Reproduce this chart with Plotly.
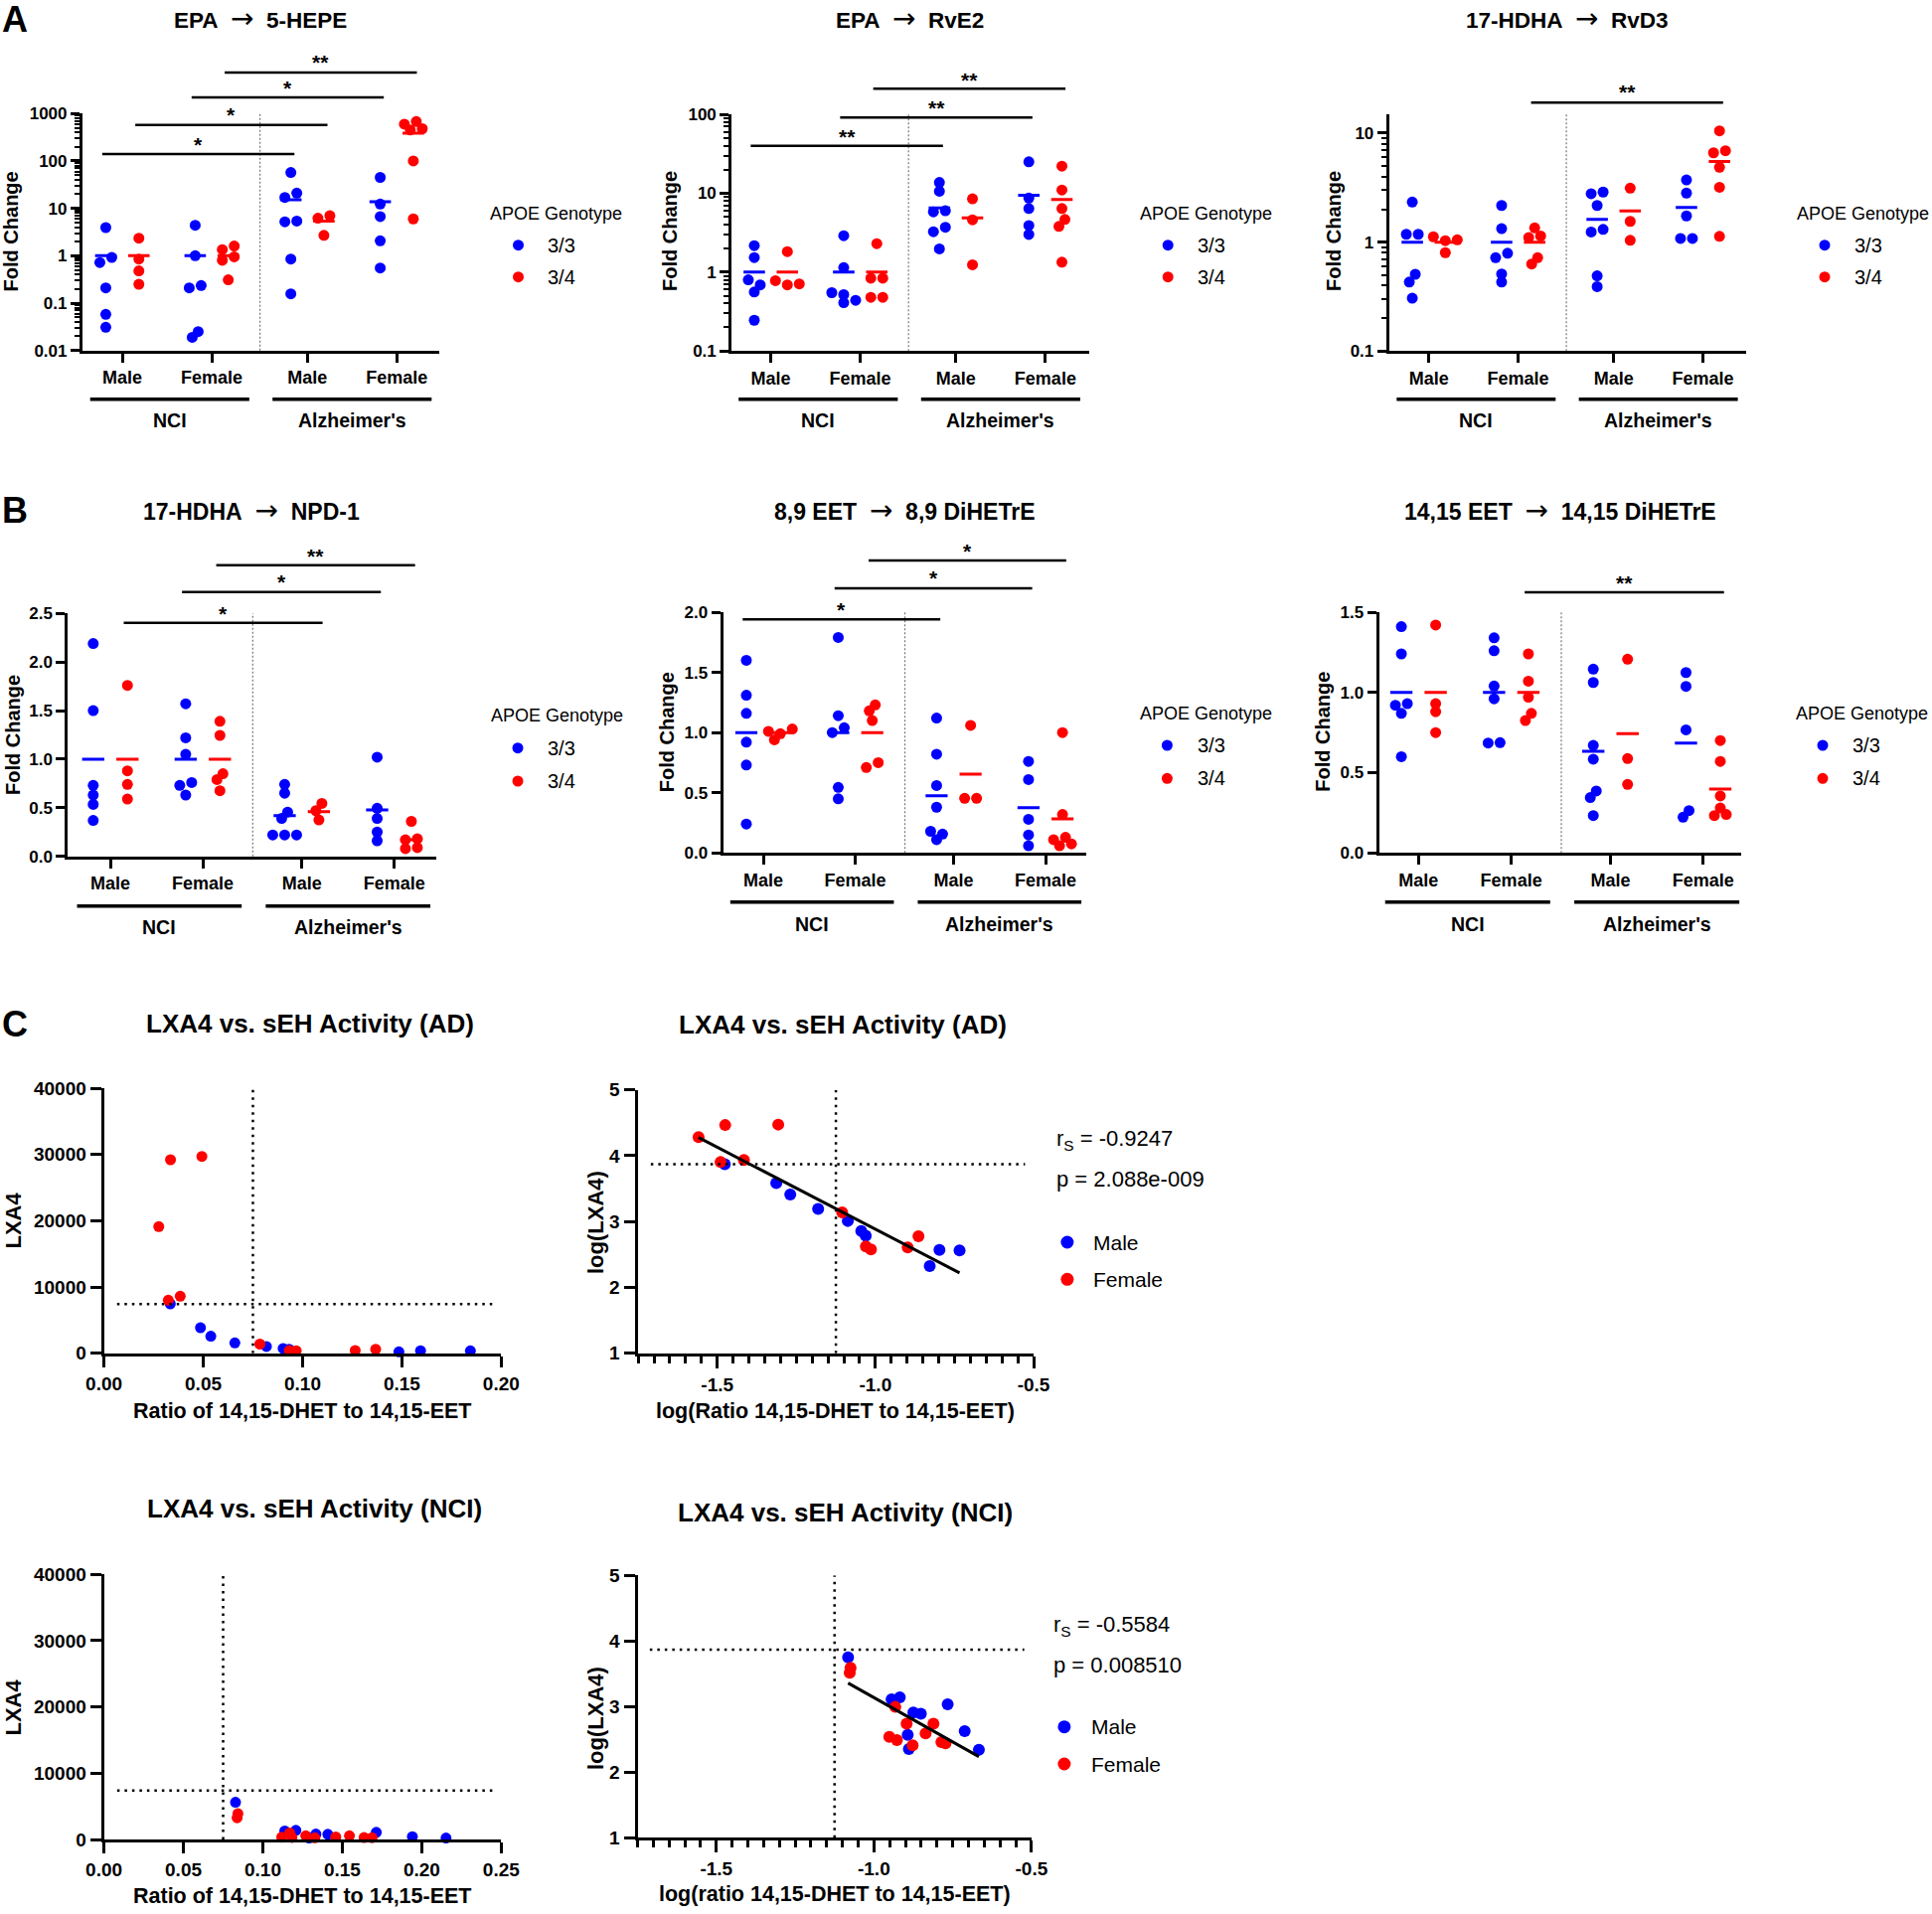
import numpy as np
import plotly.graph_objects as go

W, H = 1944, 1926
FONT = "Liberation Sans, Arial, Helvetica, sans-serif"
BLUE = "#0000FF"
RED = "#FF0000"
BLACK = "#000000"

# ---------------- data ----------------
CATEGORY_LABELS = ["Male", "Female", "Male", "Female"]
COHORT_LABELS = ["NCI", "Alzheimer's"]
GENOTYPE_LABELS = ["3/3", "3/4"]

# EPA -> 5-HEPE (fold change); groups: NCI M, NCI F, AD M, AD F
HEPE5_33 = [[3.93, 0.92, 0.72, 0.21, 0.058, 0.031], [4.4, 1.0, 0.21, 0.235, 0.025, 0.019],
            [57, 21, 17, 5.4, 5.2, 0.85, 0.157], [45, 12.3, 6.7, 2.06, 0.55]]
HEPE5_34 = [[2.35, 0.85, 0.48, 0.25], [1.35, 1.6, 0.8, 0.95, 0.31],
            [7.0, 6.2, 2.7], [680, 600, 480, 450, 100, 6.0]]
HEPE5_MEAN_33 = [1.0, 1.0, 15.2, 13.8]
HEPE5_MEAN_34 = [1.0, 1.0, 5.4, 386]

# EPA -> RvE2
RVE2_33 = [[2.17, 1.53, 0.69, 0.80, 0.56, 0.246], [2.9, 1.14, 0.55, 0.52, 0.44, 0.41],
           [13.7, 10.6, 6.0, 5.8, 3.7, 3.25, 1.97], [25, 8.7, 6.4, 3.9, 3.0]]
RVE2_34 = [[1.82, 0.69, 0.71, 0.78], [2.3, 0.84, 0.84, 0.48, 0.48],
           [8.5, 4.6, 1.24], [22, 11, 6.4, 4.65, 3.8, 1.34]]
RVE2_MEAN_33 = [1.0, 1.0, 6.5, 9.4]
RVE2_MEAN_34 = [1.0, 1.0, 4.87, 8.3]

# 17-HDHA -> RvD3
RVD3_33 = [[2.33, 1.18, 1.18, 0.507, 0.43, 0.306], [2.17, 1.33, 0.72, 0.79, 0.51, 0.43],
           [2.88, 2.78, 2.17, 1.24, 1.31, 0.49, 0.39], [3.72, 2.82, 1.74, 1.08, 1.08]]
RVD3_34 = [[1.12, 1.05, 1.03, 0.80], [1.35, 1.1, 1.14, 0.72, 0.63],
           [3.13, 1.55, 1.04], [10.5, 6.9, 6.6, 4.86, 3.19, 1.13]]
RVD3_MEAN_33 = [1.0, 1.0, 1.62, 2.08]
RVD3_MEAN_34 = [1.0, 1.0, 1.93, 5.5]

# 17-HDHA -> NPD-1
NPD1_33 = [[2.19, 1.50, 0.63, 0.73, 0.535, 0.37], [1.57, 1.22, 1.05, 0.76, 0.73, 0.63],
           [0.74, 0.65, 0.455, 0.39, 0.22, 0.22, 0.22], [1.02, 0.495, 0.39, 0.25, 0.16]]
NPD1_34 = [[1.76, 0.88, 0.74, 0.59], [1.39, 1.245, 0.85, 0.79, 0.675],
           [0.545, 0.47, 0.375], [0.36, 0.18, 0.17, 0.09, 0.08]]
NPD1_MEAN_33 = [1.0, 1.0, 0.42, 0.477]
NPD1_MEAN_34 = [1.0, 1.0, 0.46, 0.17]

# 8,9 EET -> 8,9 DiHETrE
DIHETRE89_33 = [[1.60, 1.31, 1.16, 0.92, 0.73, 0.24], [1.79, 1.14, 1.0, 1.04, 0.545, 0.45],
                [1.12, 0.82, 0.56, 0.38, 0.18, 0.157, 0.11], [0.76, 0.61, 0.28, 0.15, 0.06]]
DIHETRE89_34 = [[1.03, 0.94, 0.99, 1.01], [1.23, 1.18, 1.10, 0.71, 0.75],
                [1.06, 0.454, 0.454], [1.0, 0.32, 0.13, 0.11, 0.06, 0.075]]
DIHETRE89_MEAN_33 = [1.0, 1.0, 0.476, 0.377]
DIHETRE89_MEAN_34 = [1.0, 1.0, 0.655, 0.283]

# 14,15 EET -> 14,15 DiHETrE
DIHETRE1415_33 = [[1.41, 1.24, 0.93, 0.92, 0.87, 0.60], [1.34, 1.26, 1.04, 0.96, 0.685, 0.687],
                  [1.145, 1.062, 0.670, 0.584, 0.386, 0.345, 0.233], [1.124, 1.038, 0.767, 0.223, 0.264]]
DIHETRE1415_34 = [[1.42, 0.93, 0.88, 0.75], [1.24, 1.07, 0.97, 0.825, 0.87],
                  [1.207, 0.588, 0.427], [0.70, 0.57, 0.355, 0.28, 0.233, 0.24]]
DIHETRE1415_MEAN_33 = [1.0, 1.0, 0.633, 0.685]
DIHETRE1415_MEAN_34 = [1.0, 1.0, 0.743, 0.398]

# Panel C: LXA4 vs ratio 14,15-DHET / 14,15-EET
AD_MALE_RATIO = [0.0334, 0.0486, 0.0538, 0.0659, 0.0818, 0.0902, 0.0932, 0.1485, 0.1594, 0.1845]
AD_MALE_LXA4 = [7450, 3850, 2570, 1560, 1020, 720, 610, 210, 372, 363]
AD_FEMALE_RATIO = [0.0276, 0.0335, 0.0493, 0.0324, 0.0384, 0.0785, 0.0933, 0.0968, 0.1265, 0.1368]
AD_FEMALE_LXA4 = [19100, 29200, 29700, 8000, 8600, 1380, 420, 376, 403, 597]

NCI_MALE_RATIO = [0.0828, 0.1138, 0.1208, 0.1334, 0.1409, 0.1714, 0.1941, 0.128, 0.1291, 0.2153]
NCI_MALE_LXA4 = [5620, 1290, 1380, 813, 776, 1084, 423, 372, 226, 219]
NCI_FEMALE_RATIO = [0.0843, 0.0838, 0.1169, 0.127, 0.1545, 0.1119, 0.1183, 0.1459, 0.1327, 0.1637, 0.1687]
NCI_FEMALE_LXA4 = [3890, 3270, 989, 550, 550, 347, 309, 389, 257, 288, 275]

RATIO_CUTOFF = 0.075
LXA4_CUTOFF = 7400
AD_STATS = ["r<sub>S</sub> = -0.9247", "p = 2.088e-009"]
NCI_STATS = ["r<sub>S</sub> = -0.5584", "p = 0.008510"]


# ---------------- helpers ----------------
def X(px):
    return px / W


def Y(py):
    return 1 - py / H


def fnt(size, bold=True, color=BLACK):
    return dict(family=FONT, size=size, color=color, weight="bold" if bold else "normal")


def ann(text, x, y, size, bold=True, xanchor="center", yanchor="middle", angle=0,
        xref="paper", yref="paper"):
    return dict(text=text, x=x, y=y, xref=xref, yref=yref, showarrow=False,
                xanchor=xanchor, yanchor=yanchor, textangle=angle, font=fnt(size, bold))


def swarm_offsets(pix, d=8.0, step=6.0):
    n = len(pix)
    order = sorted(range(n), key=lambda i: pix[i])
    offs = [0.0] * n
    placed = []
    cands = [0.0]
    for k in range(1, 6):
        cands += [k * step, -k * step]
    for i in order:
        chosen = 0.0
        for c in cands:
            if all((c - offs[j]) ** 2 + (pix[i] - pix[j]) ** 2 >= d * d for j in placed):
                chosen = c
                break
        offs[i] = chosen
        placed.append(i)
    comps, cur = [], [order[0]]
    for a, b in zip(order, order[1:]):
        if pix[b] - pix[a] < d:
            cur.append(b)
        else:
            comps.append(cur)
            cur = [b]
    comps.append(cur)
    for c in comps:
        mid = (max(offs[i] for i in c) + min(offs[i] for i in c)) / 2
        for i in c:
            offs[i] -= mid
    return offs


CAT_POS = [1.0, 2.0, 3.07, 4.07]
GENO_OFF = [-0.185, 0.185]
GENO_COL = [BLUE, RED]

fig = go.Figure()
layout = dict(width=W, height=H, margin=dict(l=0, r=0, t=0, b=0),
              paper_bgcolor="white", plot_bgcolor="white", showlegend=False)
annotations = []
shapes = []


def axis_names(i):
    s = "" if i == 1 else str(i)
    return "xaxis" + s, "yaxis" + s, "x" + s, "y" + s


ARROW = ("\u00a0\u00a0<span style='font-family:DejaVu Sans;font-weight:normal;font-size:28px'>"
         "\u2192</span>\u00a0\u00a0")

AB_PANELS = [
    dict(title="EPA" + ARROW + "5-HEPE", d33=HEPE5_33, d34=HEPE5_34, m33=HEPE5_MEAN_33, m34=HEPE5_MEAN_34,
         log=True, yr=[-2, 3], x0=82.9, x1=441.5, yt=114.3, yb=352.7, xr=[0.553, 4.54], tx=261.8, ty=18.3,
         sig=[(0, 2, 0, "*", 155, 142.7), (0, 2, 1, "*", 125.7, 112.7), (1, 3, 0, "*", 98, 85), (1, 3, 1, "**", 73, 60)],
         gl=401.7, gt=422.7, fc=(11.4, 233), leg=(559, 215, 521.5, 246.7, 278.7, 549), tsize=22.5),
    dict(title="EPA" + ARROW + "RvE2", d33=RVE2_33, d34=RVE2_34, m33=RVE2_MEAN_33, m34=RVE2_MEAN_34,
         log=True, yr=[-1, 2], x0=736.2, x1=1095.6, yt=115, yb=353.3, xr=[0.562, 4.556], tx=915.9, ty=18.3,
         sig=[(0, 2, 0, "**", 146.7, 134.3), (1, 3, 0, "**", 118.3, 106), (1, 3, 1, "**", 89.3, 77.3)],
         gl=401.7, gt=422.7, fc=(674, 233), leg=(1213, 215, 1175.2, 246.7, 278.7, 1202.6), tsize=22.5),
    dict(title="17-HDHA" + ARROW + "RvD3", d33=RVD3_33, d34=RVD3_34, m33=RVD3_MEAN_33, m34=RVD3_MEAN_34,
         log=True, yr=[-1, 1.173], x0=1397.7, x1=1756.7, yt=115, yb=353.3, xr=[0.555, 4.55], tx=1576.8, ty=18.3,
         sig=[(1, 3, 1, "**", 103.3, 90)],
         gl=401.7, gt=422.7, fc=(1342, 233), leg=(1874, 215, 1836, 246.7, 278.7, 1863.5), tsize=22.5),
    dict(title="17-HDHA" + ARROW + "NPD-1", d33=NPD1_33, d34=NPD1_34, m33=NPD1_MEAN_33, m34=NPD1_MEAN_34,
         log=False, yr=[0, 2.5], x0=68.4, x1=438.6, yt=617.3, yb=861.7, xr=[0.542, 4.52], tx=253.3, ty=513.3,
         sig=[(0, 2, 1, "*", 626.7, 614.3), (1, 3, 0, "*", 595.7, 582.7), (1, 3, 1, "**", 568.7, 556)],
         gl=911.7, gt=933.3, fc=(13, 740), leg=(560, 720, 521, 752.7, 786, 549), tsize=23),
    dict(title="8,9 EET" + ARROW + "8,9 DiHETrE", d33=DIHETRE89_33, d34=DIHETRE89_34, m33=DIHETRE89_MEAN_33,
         m34=DIHETRE89_MEAN_34, log=False, yr=[0, 2.0], x0=727.5, x1=1092.7, yt=616, yb=858.3, xr=[0.561, 4.51],
         tx=910.1, ty=513.3,
         sig=[(0, 2, 0, "*", 623.3, 610), (1, 3, 0, "*", 592, 578.7), (1, 3, 1, "*", 564, 551)],
         gl=907.7, gt=930, fc=(670.5, 736.7), leg=(1213, 718.3, 1174.4, 750, 783.3, 1202.6), tsize=23),
    dict(title="14,15 EET" + ARROW + "14,15 DiHETrE", d33=DIHETRE1415_33, d34=DIHETRE1415_34,
         m33=DIHETRE1415_MEAN_33, m34=DIHETRE1415_MEAN_34, log=False, yr=[0, 1.5], x0=1387.5, x1=1751.8,
         yt=616, yb=858.3, xr=[0.573, 4.478], tx=1570, ty=513.3,
         sig=[(1, 3, 1, "**", 596, 583)],
         gl=907.7, gt=930, fc=(1331, 736.7), leg=(1873, 718.3, 1834, 750, 783.3, 1862), tsize=23),
]

for idx, p in enumerate(AB_PANELS, start=1):
    xa, ya, xr_, yr_ = axis_names(idx)
    ppu_x = (p["x1"] - p["x0"]) / (p["xr"][1] - p["xr"][0])
    ppu_y = (p["yb"] - p["yt"]) / (p["yr"][1] - p["yr"][0])
    tf = (lambda v: np.log10(v)) if p["log"] else (lambda v: v)

    for g, (data, means) in enumerate([(p["d33"], p["m33"]), (p["d34"], p["m34"])]):
        xs, ys, mx, my = [], [], [], []
        for ci, vals in enumerate(data):
            pix = [(tf(v) - p["yr"][0]) * ppu_y for v in vals]
            offs = swarm_offsets(pix)
            base = CAT_POS[ci] + GENO_OFF[g]
            xs += [base + o / ppu_x for o in offs]
            ys += list(vals)
            mx += [base - 0.12, base + 0.12, None]
            my += [means[ci], means[ci], None]
        fig.add_trace(go.Scatter(x=xs, y=ys, mode="markers", xaxis=xr_, yaxis=yr_, cliponaxis=False,
                                 marker=dict(color=GENO_COL[g], size=11, line=dict(width=0)),
                                 name=GENOTYPE_LABELS[g]))
        fig.add_trace(go.Scatter(x=mx, y=my, mode="lines", xaxis=xr_, yaxis=yr_, cliponaxis=False,
                                 line=dict(color=GENO_COL[g], width=3), hoverinfo="skip"))

    layout[xa] = dict(domain=[X(p["x0"]), X(p["x1"])], anchor=yr_, range=p["xr"], showgrid=False,
                      zeroline=False, showline=True, linecolor=BLACK, linewidth=3, ticks="outside",
                      ticklen=9, tickwidth=3, tickcolor=BLACK, tickmode="array", tickvals=CAT_POS,
                      ticktext=CATEGORY_LABELS, tickfont=fnt(18), automargin=False, fixedrange=True)
    yd = dict(domain=[Y(p["yb"]), Y(p["yt"])], anchor=xr_, range=p["yr"], showgrid=False, zeroline=False,
              showline=True, linecolor=BLACK, linewidth=3, ticks="outside", ticklen=9, tickwidth=2.5,
              tickcolor=BLACK, tickfont=fnt(17), automargin=False, fixedrange=True)
    if p["log"]:
        yd.update(type="log", tickmode="linear", tick0=0, dtick=1, exponentformat="none",
                  minor=dict(ticks="outside", ticklen=5, tickwidth=1.5, tickcolor=BLACK, dtick="D1",
                             showgrid=False))
    else:
        yd.update(type="linear", tickmode="linear", tick0=0, dtick=0.5, tickformat=".1f")
    layout[ya] = yd

    # divider between cohorts
    shapes.append(dict(type="line", xref=xr_, yref=yr_ + " domain", x0=2.54, x1=2.54, y0=0, y1=1,
                       line=dict(color="#777777", width=1.2, dash="2px,2px")))
    # significance bars
    for g1, g2, geno, lab, by, sy in p["sig"]:
        xa0 = CAT_POS[g1] + GENO_OFF[geno] - 0.04
        xa1 = CAT_POS[g2] + GENO_OFF[geno] + 0.04
        shapes.append(dict(type="line", xref=xr_, yref="paper", x0=xa0, x1=xa1, y0=Y(by), y1=Y(by),
                           line=dict(color=BLACK, width=2.5)))
        annotations.append(ann(lab, (xa0 + xa1) / 2, Y(sy + 3), 21, bold=True, xref=xr_))
    # cohort lines/labels
    for (a0, a1), lab in zip([(0.64, 2.42), (2.68, 4.46)], COHORT_LABELS):
        shapes.append(dict(type="line", xref=xr_, yref="paper", x0=a0, x1=a1, y0=Y(p["gl"]), y1=Y(p["gl"]),
                           line=dict(color=BLACK, width=3.5)))
        annotations.append(ann(lab, (a0 + a1) / 2, Y(p["gt"]), 19.5, xref=xr_))
    # title and y title
    annotations.append(ann(p["title"], X(p["tx"]), Y(p["ty"]), p["tsize"]))
    annotations.append(ann("Fold Change", X(p["fc"][0]), Y(p["fc"][1]), 20, angle=-90))
    # legend
    lx, ly, mxp, my1, my2, tx = p["leg"]
    annotations.append(ann("APOE Genotype", X(lx), Y(ly), 18, bold=False))
    for gy, col, lab in [(my1, BLUE, GENOTYPE_LABELS[0]), (my2, RED, GENOTYPE_LABELS[1])]:
        shapes.append(dict(type="circle", xref="paper", yref="paper", xsizemode="pixel", ysizemode="pixel",
                           xanchor=X(mxp), yanchor=Y(gy), x0=-5.5, x1=5.5, y0=-5.5, y1=5.5, fillcolor=col,
                           line=dict(width=0)))
        annotations.append(ann(lab, X(tx), Y(gy), 20, bold=False, xanchor="left"))

# ---------------- panel C ----------------
C_PANELS = [
    dict(title="LXA4 vs. sEH Activity (AD)", mx=AD_MALE_RATIO, my=AD_MALE_LXA4, fx=AD_FEMALE_RATIO,
         fy=AD_FEMALE_LXA4, log=False, x0=104.6, x1=504.3, yt=1095, yb=1361.7, xr=[0, 0.2], yr=[0, 40000],
         tx=312, ty=1030, xt="Ratio of 14,15-DHET to 14,15-EET", xty=1420, yt_="LXA4", ytx=12.5, yty=1228,
         hl=[0.0066, 0.197]),
    dict(title="LXA4 vs. sEH Activity (AD)", mx=AD_MALE_RATIO, my=AD_MALE_LXA4, fx=AD_FEMALE_RATIO,
         fy=AD_FEMALE_LXA4, log=True, x0=641.5, x1=1040, yt=1096.7, yb=1361.7, xr=[-1.752, -0.5], yr=[1, 5],
         tx=848.4, ty=1031, xt="log(Ratio 14,15-DHET to 14,15-EET)", xty=1420, yt_="log(LXA4)", ytx=599,
         yty=1230, hl=[-1.71, -0.527], stats=AD_STATS, sx=1060.9, sy=(1146.7, 1186.7),
         lg=(1073.9, 1250, 1287.3, 1097.8)),
    dict(title="LXA4 vs. sEH Activity (NCI)", mx=NCI_MALE_RATIO, my=NCI_MALE_LXA4, fx=NCI_FEMALE_RATIO,
         fy=NCI_FEMALE_LXA4, log=False, x0=104.6, x1=504.3, yt=1584.3, yb=1851, xr=[0, 0.25], yr=[0, 40000],
         tx=316, ty=1518.3, xt="Ratio of 14,15-DHET to 14,15-EET", xty=1908, yt_="LXA4", ytx=12.5, yty=1718,
         hl=[0.0083, 0.246]),
    dict(title="LXA4 vs. sEH Activity (NCI)", mx=NCI_MALE_RATIO, my=NCI_MALE_LXA4, fx=NCI_FEMALE_RATIO,
         fy=NCI_FEMALE_LXA4, log=True, x0=641.5, x1=1037.9, yt=1585.3, yb=1849.3, xr=[-1.75, -0.5], yr=[1, 5],
         tx=850.6, ty=1521.7, xt="log(ratio 14,15-DHET to 14,15-EET)", xty=1906, yt_="log(LXA4)", ytx=599,
         yty=1729, hl=[-1.711, -0.523], stats=NCI_STATS, sx=1057.9, sy=(1636, 1675),
         lg=(1070.9, 1737.7, 1775, 1095.6)),
]

MINUS = "\u2212"
for k, p in enumerate(C_PANELS):
    idx = 7 + k
    xa, ya, xr_, yr_ = axis_names(idx)
    mx = np.array(p["mx"], float)
    my = np.array(p["my"], float)
    fx = np.array(p["fx"], float)
    fy = np.array(p["fy"], float)
    cx, cy = RATIO_CUTOFF, LXA4_CUTOFF
    if p["log"]:
        mx, my, fx, fy = np.log10(mx), np.log10(my), np.log10(fx), np.log10(fy)
        cx, cy = np.log10(cx), np.log10(cy)
    msize = 12 if p["log"] else 11
    fig.add_trace(go.Scatter(x=mx, y=my, mode="markers", xaxis=xr_, yaxis=yr_, cliponaxis=False,
                             marker=dict(color=BLUE, size=msize, line=dict(width=0)), name="Male"))
    fig.add_trace(go.Scatter(x=fx, y=fy, mode="markers", xaxis=xr_, yaxis=yr_, cliponaxis=False,
                             marker=dict(color=RED, size=msize, line=dict(width=0)), name="Female"))
    if p["log"]:
        allx = np.concatenate([mx, fx])
        ally = np.concatenate([my, fy])
        slope, icpt = np.polyfit(allx, ally, 1)
        lx = np.array([allx.min(), allx.max()])
        fig.add_trace(go.Scatter(x=lx, y=slope * lx + icpt, mode="lines", xaxis=xr_, yaxis=yr_,
                                 line=dict(color=BLACK, width=3)))
    # cutoff lines
    shapes.append(dict(type="line", xref=xr_, yref=yr_, x0=cx, x1=cx, y0=p["yr"][0], y1=p["yr"][1],
                       line=dict(color=BLACK, width=2.5, dash="2.5px,5px")))
    shapes.append(dict(type="line", xref=xr_, yref=yr_, x0=p["hl"][0], x1=p["hl"][1], y0=cy, y1=cy,
                       line=dict(color=BLACK, width=2.5, dash="2.5px,5px")))

    xd = dict(domain=[X(p["x0"]), X(p["x1"])], anchor=yr_, range=p["xr"], showgrid=False, zeroline=False,
              showline=True, linecolor=BLACK, linewidth=3, ticks="outside", ticklen=11, tickwidth=3,
              tickcolor=BLACK, tickfont=fnt(19), automargin=False, fixedrange=True)
    yd = dict(domain=[Y(p["yb"]), Y(p["yt"])], anchor=xr_, range=p["yr"], showgrid=False, zeroline=False,
              showline=True, linecolor=BLACK, linewidth=3, ticks="outside", ticklen=11, tickwidth=3,
              tickcolor=BLACK, tickfont=fnt(19), automargin=False, fixedrange=True)
    if p["log"]:
        xd.update(tickmode="linear", tick0=-1.5, dtick=0.5, tickformat=".1f", ticklen=12,
                  labelalias={MINUS + "1.5": "-1.5", MINUS + "1.0": "-1.0", MINUS + "0.5": "-0.5"},
                  minor=dict(ticks="outside", ticklen=7, tickwidth=2.5, tickcolor=BLACK, dtick=0.05,
                             tick0=-1.5, showgrid=False))
        yd.update(tickmode="linear", tick0=1, dtick=1, tickformat="d")
    else:
        xd.update(tickmode="linear", tick0=0, dtick=0.05, tickformat=".2f")
        yd.update(tickmode="linear", tick0=0, dtick=10000, tickformat="d")
    layout[xa] = xd
    layout[ya] = yd

    annotations.append(ann(p["title"], X(p["tx"]), Y(p["ty"]), 26))
    annotations.append(ann(p["xt"], X((p["x0"] + p["x1"]) / 2), Y(p["xty"]), 21.5))
    annotations.append(ann(p["yt_"], X(p["ytx"]), Y(p["yty"]), 22, angle=-90))
    if p["log"]:
        for s, sy in zip(p["stats"], p["sy"]):
            annotations.append(ann(s, X(p["sx"]), Y(sy), 22, bold=False, xanchor="left"))
        lgx, lgy1, lgy2, lgt = p["lg"]
        for gy, col, lab in [(lgy1, BLUE, "Male"), (lgy2, RED, "Female")]:
            shapes.append(dict(type="circle", xref="paper", yref="paper", xsizemode="pixel",
                               ysizemode="pixel", xanchor=X(lgx), yanchor=Y(gy), x0=-6.5, x1=6.5, y0=-6.5,
                               y1=6.5, fillcolor=col, line=dict(width=0)))
            annotations.append(ann(lab, X(lgt), Y(gy), 21, bold=False, xanchor="left"))

# panel letters
for letter, py in [("A", 19.5), ("B", 513), ("C", 1030)]:
    annotations.append(ann(letter, X(0), Y(py), 36, xanchor="left"))

layout["annotations"] = annotations
layout["shapes"] = shapes
fig.update_layout(**layout)
# remove the default 8px page margin so the figure fills the window exactly
fig.write_html("out.html", config={"displayModeBar": False},
               post_script="document.body.style.margin='0px';")
